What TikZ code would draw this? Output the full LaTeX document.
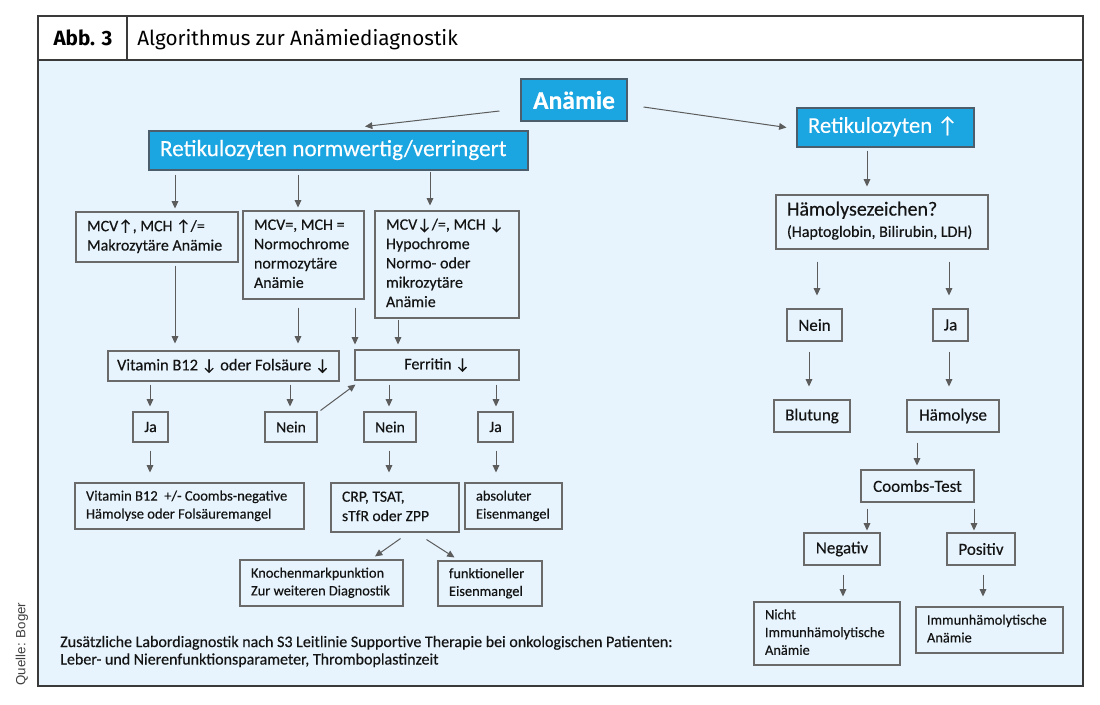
\documentclass[tikz,border=0pt]{standalone}
\usepackage{fontspec}
\setmainfont{Carlito}[FakeBold=0.35]
\newfontfamily\titlefont{Fira Sans}
\newfontfamily\arialfont{Liberation Sans}
\usetikzlibrary{arrows.meta}
\definecolor{bgblue}{HTML}{E7F4FD}
\definecolor{hdblue}{HTML}{1BA5E1}
\definecolor{hdborder}{HTML}{4C5D6B}
\definecolor{bxgray}{HTML}{6A6A6A}
\definecolor{argray}{HTML}{5C5C5C}
\definecolor{frgray}{HTML}{3A3A3A}
\definecolor{txt}{HTML}{141414}
\newcommand\fsz[2]{\fontsize{#1}{#2}\selectfont}
% left-aligned box: name, x1, y1, x2, y2, options, lines
\newcommand\bx[7]{%
  \pgfmathsetmacro\bw{(#4-#2)*0.75}%
  \pgfmathsetmacro\bh{(#5-#3)*0.75}%
  \pgfmathsetmacro\tw{(#4-#2-22)*0.75}%
  \node[box,minimum width=\bw pt,minimum height=\bh pt,#6] (#1) at ({(#2+#4)/2},{(#3+#5)/2})
    {\makebox[\tw pt][l]{\begin{tabular}{@{}l@{}}#7\end{tabular}}};}
% centred box
\newcommand\bc[7]{%
  \pgfmathsetmacro\bw{(#4-#2)*0.75}%
  \pgfmathsetmacro\bh{(#5-#3)*0.75}%
  \node[box,minimum width=\bw pt,minimum height=\bh pt,align=center,#6] (#1) at ({(#2+#4)/2},{(#3+#5)/2}) {#7};}
% vertical connector: from, to, x, gap at start, gap at end (px)
\newcommand\va[5]{\draw[arr,shorten <=#4*0.75pt,shorten >=#5*0.75pt] (#1.south -| #3,0) -- (#2.north -| #3,0);}
\tikzset{
  box/.style={draw=bxgray,line width=0.8pt,inner sep=0pt,text=txt},
  blue/.style={fill=hdblue,draw=hdborder,text=white},
  arr/.style={draw=argray,line width=0.75pt,-{Triangle[length=5.5pt,width=5pt]}},
  ntext/.style={font=\fsz{12}{14.5}},
  ytext/.style={font=\fsz{11.75}{14}},
  rtext/.style={font=\fsz{12.75}{15}},
  stext/.style={font=\fsz{10.8}{13.3}}
}
\begin{document}
\begin{tikzpicture}[x=0.75pt,y=-0.75pt]
\useasboundingbox (0,0) rectangle (1100,704);
\fill[white] (0,0) rectangle (1100,704);
% frame
\fill[bgblue] (38,60) rectangle (1083,686);
\draw[frgray,line width=1pt] (38,16) rectangle (1083,686);
\draw[frgray,line width=1.3pt] (38,686) -- (1083,686) -- (1083,60);
\draw[frgray,line width=1pt] (38,60) -- (1083,60);
\draw[frgray,line width=1pt] (127,16) -- (127,60);
\node[anchor=base,inner sep=0pt,font=\titlefont\bfseries\fsz{15.5}{18}] (abb) at (83,45) {Abb. 3};
\node[anchor=base west,inner sep=0pt,font=\titlefont\fsz{15.5}{18}] (ttl) at (137,45) {Algorithmus zur Anämiediagnostik};
\node[rotate=90,inner sep=0pt,text=black!75,font=\arialfont\fsz{10}{12}] (src) at (22,644) {Quelle: Boger};

% top
\bc{an}{521}{79}{627}{121}{blue,font=\bfseries\fsz{19.2}{23}}{Anämie}
\bx{rn}{149}{131}{528}{170}{blue,font=\fsz{17.4}{21}}{Retikulozyten normwertig/verringert}
\bx{rup}{797}{108}{974}{147}{blue,font=\fsz{17}{20}}{Retikulozyten ↑}

% left branch
\bx{mcvu}{76}{212}{238}{262}{ntext}{MCV↑, MCH ↑/=\\Makrozytäre Anämie}
\bx{mcve}{243}{211}{364}{299}{ntext}{MCV=, MCH =\\Normochrome\\normozytäre\\Anämie}
\bx{mcvd}{375}{211}{519}{318}{ntext}{MCV↓/=, MCH ↓\\Hypochrome\\Normo- oder\\mikrozytäre\\Anämie}
\bc{vit}{108}{351}{339}{381}{font=\fsz{12.3}{14.5}}{Vitamin B12 ↓ oder Folsäure ↓}
\bc{fer}{355}{350}{519}{380}{ntext}{Ferritin ↓}
\bc{jaL}{133}{412}{168}{442}{ytext}{Ja}
\bc{neinL}{265}{412}{317}{442}{ytext}{Nein}
\bc{neinM}{364}{412}{416}{442}{ytext}{Nein}
\bc{jaR}{478}{412}{513}{442}{ytext}{Ja}
\bx{resV}{75}{483}{304}{529}{font=\fsz{10.9}{13.5}}{Vitamin B12~ +/- Coombs-negative\\Hämolyse oder Folsäuremangel}
\bx{crp}{331}{483}{459}{532}{font=\fsz{11.7}{14.5}}{CRP, TSAT,\\sTfR oder ZPP}
\bx{abs}{465}{483}{562}{529}{font=\fsz{10.8}{13.5}}{absoluter\\Eisenmangel}
\bx{kno}{240}{560}{403}{606}{stext}{Knochenmarkpunktion\\Zur weiteren Diagnostik}
\bx{fun}{438}{561}{542}{606}{stext}{funktioneller\\Eisenmangel}

% right branch
\bx{hz}{776}{195}{988}{249}{font=\fsz{15}{16}}{Hämolysezeichen?\\{\fsz{12}{14}(Haptoglobin, Bilirubin, LDH)}}
\bc{neinR}{787}{309}{842}{341}{rtext}{Nein}
\bc{jaRR}{933}{309}{968}{341}{rtext}{Ja}
\bc{blut}{774}{400}{850}{432}{rtext}{Blutung}
\bc{haem}{907}{400}{999}{432}{rtext}{Hämolyse}
\bc{coombs}{861}{470}{974}{502}{rtext}{Coombs-Test}
\bc{neg}{804}{533}{880}{565}{rtext}{Negativ}
\bc{pos}{947}{533}{1015}{565}{rtext}{Positiv}
\bx{nicht}{754}{602}{900}{665}{stext}{Nicht\\Immunhämolytische\\Anämie}
\bx{immun}{916}{607}{1063}{653}{stext}{Immunhämolytische\\Anämie}

% footer
\node[anchor=west,inner sep=0pt,align=left,text=txt,font=\fsz{12}{13.1}] (foot) at (60,651.5)
  {Zusätzliche Labordiagnostik nach S3 Leitlinie Supportive Therapie bei onkologischen Patienten:\\Leber- und Nierenfunktionsparameter, Thromboplastinzeit};

% connectors
\draw[arr] ([shift={(-21,11)}]an.west) -- ([shift={(26.5,-4)}]rn.north);
\draw[arr] ([shift={(16,7)}]an.east) -- ([shift={(-10,0)}]rup.west);
\va{rn}{mcvu}{175}{4}{3}
\va{rn}{mcve}{298}{4}{3}
\va{rn}{mcvd}{430}{1}{5}
\va{mcvu}{vit}{175}{3}{7}
\va{mcve}{vit}{298}{8}{7}
\va{mcve}{fer}{355}{8}{5}
\va{mcvd}{fer}{398}{1}{5}
\va{vit}{jaL}{150}{3}{5}
\va{vit}{neinL}{290}{3}{5}
\va{fer}{neinM}{389}{4}{5}
\va{fer}{jaR}{496}{4}{5}
\draw[arr] ([shift={(3,-1)}]neinL.north east) -- ([shift={(1,4)}]fer.south west);
\va{jaL}{resV}{150}{8}{10}
\va{neinM}{crp}{389}{8}{10}
\va{jaR}{abs}{496}{8}{10}
\draw[arr] ([shift={(5.5,6)}]crp.south) -- ([shift={(53.5,-3)}]kno.north);
\draw[arr] ([shift={(31.5,7)}]crp.south) -- ([shift={(-35.5,-3)}]fun.north);
\va{rup}{hz}{867}{3}{8}
\va{hz}{neinR}{817}{12}{13}
\va{hz}{jaRR}{949}{12}{13}
\va{neinR}{blut}{809}{10}{13}
\va{jaRR}{haem}{949}{10}{13}
\va{haem}{coombs}{917}{10}{4}
\va{coombs}{neg}{867}{6}{2}
\va{coombs}{pos}{974}{6}{2}
\va{neg}{nicht}{843}{9}{5}
\va{pos}{immun}{983}{9}{10}
\end{tikzpicture}
\end{document}
